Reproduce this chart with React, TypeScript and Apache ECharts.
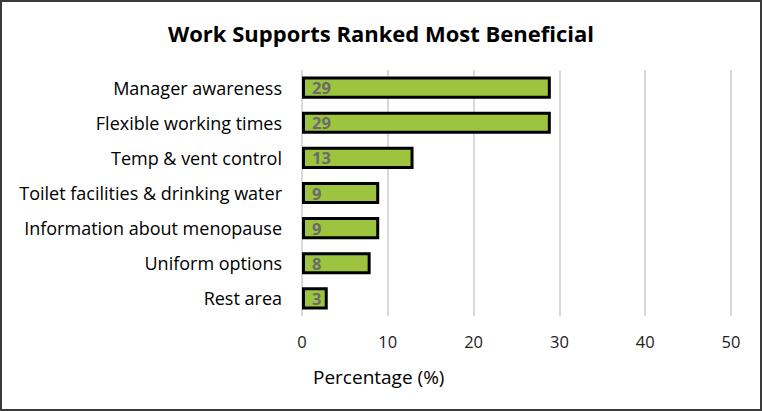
import React, { useEffect, useRef } from "react";
import * as echarts from "echarts";

const categories = [
  "Manager awareness",
  "Flexible working times",
  "Temp & vent control",
  "Toilet facilities & drinking water",
  "Information about menopause",
  "Uniform options",
  "Rest area",
];
const values = [29, 29, 13, 9, 9, 8, 3];
const titleText = "Work Supports Ranked Most Beneficial";
const axisTitle = "Percentage (%)";

const FONT = "'Open Sans', 'Liberation Sans', sans-serif";

export default function App() {
  const ref = useRef<HTMLDivElement>(null);
  useEffect(() => {
    document.body.style.margin = "0";
    const chart = echarts.init(ref.current!, null, { renderer: "svg" });
    chart.setOption({
      animation: false,
      backgroundColor: "#ffffff",
      textStyle: { fontFamily: FONT },
      title: {
        text: titleText,
        left: "center",
        top: 17,
        textStyle: { fontFamily: FONT, fontSize: 22, fontWeight: "bold", color: "#000" },
      },
      graphic: [
        {
          type: "rect",
          shape: { x: 1, y: 1, width: 760, height: 409 },
          style: { fill: "none", stroke: "#3a3a3a", lineWidth: 2 },
          silent: true,
        },
        {
          type: "text",
          left: 313,
          top: 367,
          style: { text: axisTitle, font: `19px ${FONT}`, fill: "#000" },
        },
      ],
      grid: { left: 302, right: 31, top: 70, bottom: 95, containLabel: false },
      xAxis: {
        type: "value",
        min: 0,
        max: 50,
        interval: 10,
        axisLine: { show: false },
        axisTick: { show: false },
        axisLabel: { color: "#222", fontSize: 16.5, fontFamily: FONT, margin: 17 },
        splitLine: { show: true, lineStyle: { color: "#d9d9d9", width: 2 } },
      },
      yAxis: {
        type: "category",
        data: categories,
        inverse: true,
        axisLine: { show: false },
        axisTick: { show: false },
        axisLabel: { color: "#000", fontSize: 18, fontFamily: FONT, margin: 20 },
      },
      series: [
        {
          type: "bar",
          data: values,
          barWidth: "63%",
          itemStyle: { color: "#9dc43f", borderColor: "#000", borderWidth: 3 },
          label: {
            show: true,
            position: "insideLeft",
            distance: 10,
            color: "#6b6b6b",
            fontWeight: "bold",
            fontSize: 16.5,
            fontFamily: FONT,
          },
        },
      ],
    });
    return () => chart.dispose();
  }, []);
  return <div ref={ref} style={{ width: 762, height: 411 }} />;
}
